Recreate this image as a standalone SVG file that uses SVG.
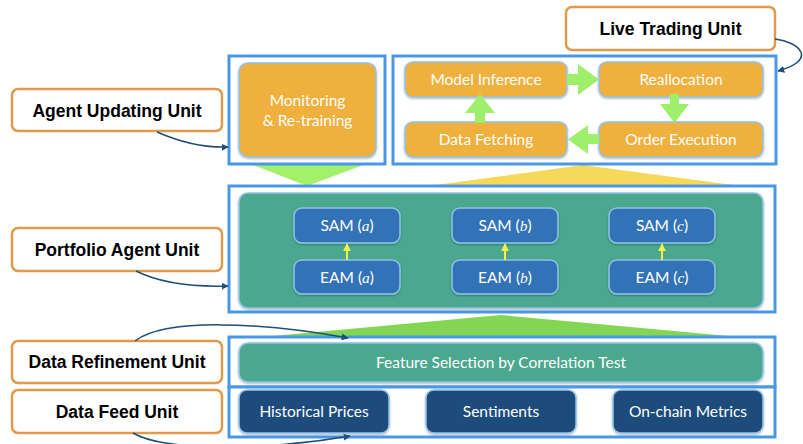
<svg xmlns="http://www.w3.org/2000/svg" width="803" height="444" viewBox="0 0 803 444">
<defs>
<marker id="ah" viewBox="0 0 10 10" refX="9" refY="5" markerWidth="7" markerHeight="7" orient="auto" markerUnits="userSpaceOnUse"><path d="M0,0 L10,5 L0,10 z" fill="#1f4e79"/></marker>
<marker id="ya" viewBox="0 0 10 10" refX="9" refY="5" markerWidth="8" markerHeight="8" orient="auto" markerUnits="userSpaceOnUse"><path d="M0,0 L10,5 L0,10 z" fill="#f5ef4a"/></marker>
<filter id="sh" x="-10%" y="-20%" width="120%" height="150%"><feDropShadow dx="0" dy="1" stdDeviation="1" flood-color="#000" flood-opacity="0.3"/></filter>
</defs>
<style>
.lab rect{fill:#fff;stroke:#e09a4c;stroke-width:2.5}
.lab text{font-family:"Liberation Sans",Arial,sans-serif;font-weight:bold;font-size:17.5px;fill:#000;text-anchor:middle}
.frame{fill:#fff;stroke:#4a97e8;stroke-width:3}
.or{fill:#f0b03e;stroke:#8fc3ea;stroke-width:1.5;filter:url(#sh)}
.gr{fill:#4ba88e;stroke:#8fc3ea;stroke-width:1.5;filter:url(#sh)}
.bl{fill:#3273b8;stroke:#8fc3ea;stroke-width:1.5;filter:url(#sh)}
.db{fill:#1f4c7c;stroke:#8fc3ea;stroke-width:1.5;filter:url(#sh)}
.t{font-family:Lato,"Open Sans",sans-serif;font-size:15.5px;fill:#fff;text-anchor:middle}
.m{font-family:"Liberation Serif","DejaVu Serif",serif;font-style:italic}
.ga{fill:#9ef06a}
.con{fill:none;stroke:#1f4e79;stroke-width:1.5;marker-end:url(#ah)}
</style>
<rect width="803" height="444" fill="#fff"/>

<!-- triangles between layers -->
<g id="flows">
<polygon points="251,164 366,164 307,186" fill="#a3f06a"/>
<polygon points="428,186 583,165 741,186" fill="#f7d95a"/>
<polygon points="251,338 501,315 750,338" fill="#82d653"/>
</g>

<!-- frames -->
<g id="frames">
<rect class="frame" x="229" y="56" width="156" height="108"/>
<rect class="frame" x="393" y="56" width="383" height="108"/>
<rect class="frame" x="229" y="186" width="546" height="126"/>
<rect class="frame" x="229" y="337" width="546" height="50"/>
<rect class="frame" x="229" y="387" width="546" height="50"/>
</g>

<!-- labels -->
<g id="agent-updating-unit" class="lab"><rect x="12" y="89" width="210" height="42" rx="6"/><text x="117" y="117">Agent Updating Unit</text></g>
<g id="live-trading-unit" class="lab"><rect x="566" y="7" width="209" height="43" rx="6"/><text x="670.5" y="35">Live Trading Unit</text></g>
<g id="portfolio-agent-unit" class="lab"><rect x="12" y="228" width="210" height="43" rx="6"/><text x="117" y="256">Portfolio Agent Unit</text></g>
<g id="data-refinement-unit" class="lab"><rect x="12" y="341" width="210" height="42" rx="6"/><text x="117" y="368">Data Refinement Unit</text></g>
<g id="data-feed-unit" class="lab"><rect x="12" y="390" width="210" height="43" rx="6"/><text x="117" y="418">Data Feed Unit</text></g>

<!-- agent updating -->
<g id="monitoring"><rect class="or" x="239" y="63" width="137" height="94" rx="9"/><text class="t" x="307.5" y="106">Monitoring</text><text class="t" x="307.5" y="126">&amp; Re-training</text></g>

<!-- live trading -->
<g id="model-inference"><rect class="or" x="405" y="62" width="162" height="35" rx="8"/><text class="t" x="486" y="85">Model Inference</text></g>
<g id="reallocation"><rect class="or" x="599" y="62" width="164" height="35" rx="8"/><text class="t" x="681" y="85">Reallocation</text></g>
<g id="data-fetching"><rect class="or" x="405" y="122" width="162" height="35" rx="8"/><text class="t" x="486" y="145">Data Fetching</text></g>
<g id="order-execution"><rect class="or" x="599" y="122" width="164" height="35" rx="8"/><text class="t" x="681" y="145">Order Execution</text></g>

<!-- portfolio agent -->
<g id="portfolio-panel"><rect class="gr" x="239" y="193" width="524" height="115" rx="9"/></g>
<g id="sam-a"><rect class="bl" x="294" y="208" width="106" height="35" rx="8"/><text class="t" x="347" y="231">SAM (<tspan class="m">a</tspan>)</text></g>
<g id="sam-b"><rect class="bl" x="452" y="208" width="106" height="35" rx="8"/><text class="t" x="505" y="231">SAM (<tspan class="m">b</tspan>)</text></g>
<g id="sam-c"><rect class="bl" x="609" y="208" width="106" height="35" rx="8"/><text class="t" x="662" y="231">SAM (<tspan class="m">c</tspan>)</text></g>
<g id="eam-a"><rect class="bl" x="294" y="260" width="106" height="34" rx="8"/><text class="t" x="347" y="283">EAM (<tspan class="m">a</tspan>)</text></g>
<g id="eam-b"><rect class="bl" x="452" y="260" width="106" height="34" rx="8"/><text class="t" x="505" y="283">EAM (<tspan class="m">b</tspan>)</text></g>
<g id="eam-c"><rect class="bl" x="609" y="260" width="106" height="34" rx="8"/><text class="t" x="662" y="283">EAM (<tspan class="m">c</tspan>)</text></g>

<!-- refinement -->
<g id="feature-selection"><rect class="gr" x="239" y="343" width="524" height="39" rx="9"/><text class="t" x="501" y="368">Feature Selection by Correlation Test</text></g>

<!-- data feed -->
<g id="historical-prices"><rect class="db" x="239" y="390" width="150" height="43" rx="8"/><text class="t" x="314" y="417">Historical Prices</text></g>
<g id="sentiments"><rect class="db" x="426" y="390" width="150" height="43" rx="8"/><text class="t" x="501" y="417">Sentiments</text></g>
<g id="on-chain-metrics"><rect class="db" x="613" y="390" width="150" height="43" rx="8"/><text class="t" x="688" y="417">On-chain Metrics</text></g>

<!-- connectors -->
<g id="connectors">
<polygon class="ga" points="567,74 578,74 578,64 599,79.5 578,95 578,85 567,85"/>
<polygon class="ga" points="670,94 679,94 679,104 689,104 674.5,123 660,104 670,104"/>
<polygon class="ga" points="599,134 588,134 588,125 568,139.5 588,154 588,144 599,144"/>
<polygon class="ga" points="475,123 485,123 485,113 495,113 480,94 465,113 475,113"/>
<line x1="347" y1="260" x2="347" y2="244" stroke="#f5ef4a" stroke-width="2" marker-end="url(#ya)"/>
<line x1="505" y1="260" x2="505" y2="244" stroke="#f5ef4a" stroke-width="2" marker-end="url(#ya)"/>
<line x1="662" y1="260" x2="662" y2="244" stroke="#f5ef4a" stroke-width="2" marker-end="url(#ya)"/>
<path class="con" d="M157,132 C180,142 205,148 228,147"/>
<path class="con" d="M136,271 C160,283 195,287 228,286"/>
<path class="con" d="M135,341 C165,318 260,322 348,338"/>
<path class="con" d="M133,433 C165,452 270,450 350,436"/>
<path class="con" d="M775,39 C800,42 818,60 778,71"/>
</g>
</svg>
